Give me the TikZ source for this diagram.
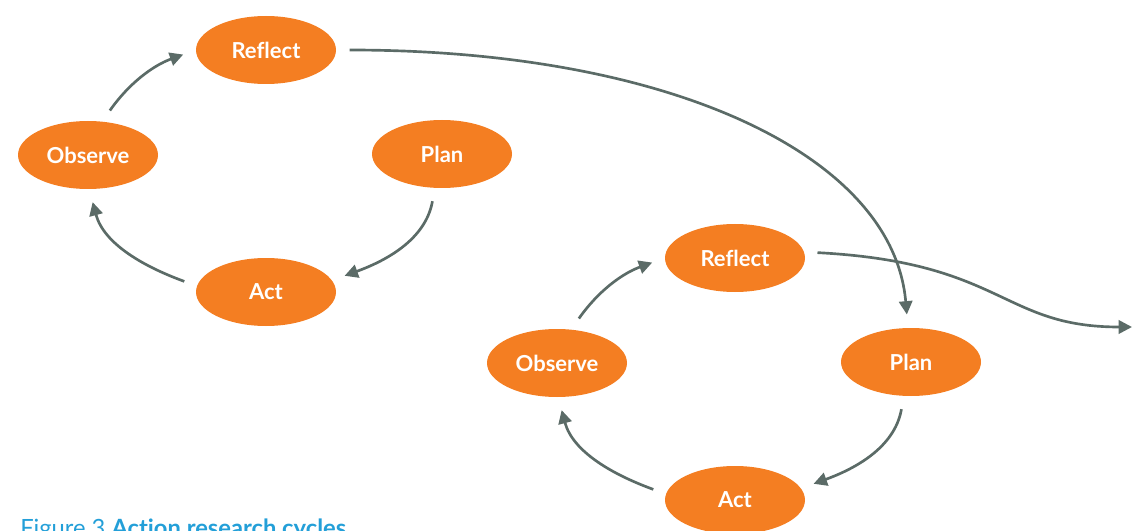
\documentclass[tikz,border=0pt]{standalone}
\usepackage{fontspec}
\setmainfont{Lato}[Ligatures=CommonOff]
\usetikzlibrary{shapes.geometric,arrows.meta}
\definecolor{cycleOrange}{HTML}{F47E22}
\definecolor{arrowGrey}{HTML}{5B6B67}
\definecolor{captionBlue}{HTML}{239FD8}

\begin{document}
\begin{tikzpicture}
[x=0.75pt,y=-0.75pt,
  lineDecorate/.style={-{Triangle[length=10pt,width=10pt]},line width=2pt,
    draw=arrowGrey,shorten <=10pt,shorten >=10pt},%
  nodeDecorate/.style={shape=ellipse,fill=cycleOrange,text=white,inner sep=0pt,
    minimum width=105pt,minimum height=51pt,font=\fontsize{16.5}{20}\selectfont\bfseries}]
\useasboundingbox (0,0) rectangle (1132,531);
%% nodes or vertices, one set for each cycle
\foreach \cyc/\dx/\dy in {A/0/0, B/469/208}
{
  \foreach \nodename/\x/\y/\nodetext in {
    reflect/266/50/Reflect, observe/88/155/Observe,
    plan/442/154/Plan, act/266/292/Act}
  {
    \node (\nodename\cyc) at (\x+\dx,\y+\dy) [nodeDecorate] {\nodetext};
  }
}
\coordinate (exitB) at (1132,327);
%% edges or lines inside each cycle
\foreach \cyc in {A,B}
{
  \foreach \startnode/\startanchor/\endnode/\endanchor/\outangle/\inangle in {
    observe/67/reflect/west/55/200, plan/258/act/10/-100/20,
    act/175/observe/-88/160/-75}
  {
    \draw[lineDecorate] (\startnode\cyc.\startanchor)
      to[out=\outangle,in=\inangle] (\endnode\cyc.\endanchor);
  }
}
%% edges between the cycles
\draw[lineDecorate] (reflectA.east)
  to[out=0,in=95,out distance=250pt,in distance=130pt] (planB.95);
\draw[lineDecorate,shorten >=0pt] (reflectB.5)
  to[out=-3,in=180,out distance=150pt,in distance=98pt] (exitB);
%% caption
\node[anchor=base west,inner sep=0pt,text=captionBlue,font=\fontsize{17.8}{21}\selectfont]
  (caption) at (20,536) {Figure 3 \textbf{Action research cycles}};
\end{tikzpicture}
\end{document}
